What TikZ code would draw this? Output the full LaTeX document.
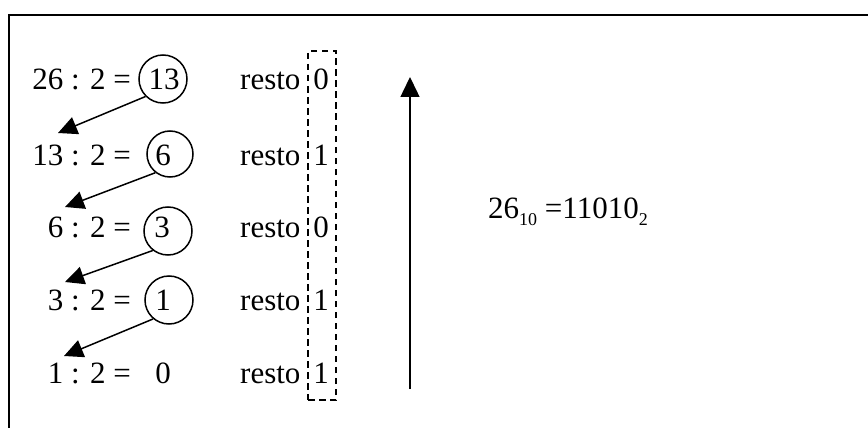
\documentclass[tikz,border=0pt]{standalone}
\usepackage{fontspec}
\setmainfont{Liberation Serif}
\usetikzlibrary{arrows.meta}
\newcommand{\subdigits}[1]{{\fontsize{18}{18}\selectfont\raisebox{-7pt}{#1}}}
\begin{document}
\begin{tikzpicture}[x=1pt,y=-1pt,
  txt/.style={inner sep=0pt,font=\fontsize{31}{37}\selectfont},
  ring/.style={draw,circle,line width=1.5pt,minimum size=48pt,inner sep=0pt},
  link/.style={line width=1.5pt,-{Triangle[length=19pt,width=18pt]}},
  ]
\useasboundingbox (0,0) rectangle (868,428);
% open frame
\draw[line width=1.8pt] (9,440) -- (9,15) -- (880,15);

% divisions
\node[txt,anchor=base east] (e1) at (131,90)  {26 : 2 =};
\node[txt,anchor=base east] (e2) at (131,165) {13 : 2 =};
\node[txt,anchor=base east] (e3) at (131,237) {6 : 2 =};
\node[txt,anchor=base east] (e4) at (131,310) {3 : 2 =};
\node[txt,anchor=base east] (e5) at (131,383) {1 : 2 =};

% quotients
\node[txt,anchor=base] (q1) at (164,90)  {13};
\node[txt,anchor=base] (q2) at (163,165) {6};
\node[txt,anchor=base] (q3) at (162,237) {3};
\node[txt,anchor=base] (q4) at (163,310) {1};
\node[txt,anchor=base] (q5) at (163,383) {0};

% circles round the quotients
\node[ring] (c1) at (163,79)  {};
\node[ring,minimum size=46pt] (c2) at (170,154) {};
\node[ring] (c3) at (168,231) {};
\node[ring] (c4) at (169,300) {};

% each quotient is carried to the next division
\coordinate (t1) at (58,133);
\coordinate (t2) at (65,207);
\coordinate (t3) at (65,282);
\coordinate (t4) at (64,356);
\draw[link] (c1.225) -- (t1);
\draw[link] (c2.232) -- (t2);
\draw[link] (c3.232) -- (t3);
\draw[link] (c4.230) -- (t4);

% remainders
\foreach \i/\y/\b in {1/90/0,2/165/1,3/237/0,4/310/1,5/383/1}{
  \node[txt,anchor=base west] (r\i) at (240,\y) {resto};
  \node[txt,anchor=base] (b\i) at (321,\y) {\b};
}
\node[draw,dashed,dash pattern=on 6.5pt off 4.5pt,line width=1.5pt,
      minimum width=28pt,minimum height=349pt,inner sep=0pt] (box) at (322,225.5) {};

% reading direction
\coordinate (up0) at (410,389);
\coordinate (up1) at (410,77);
\draw[line width=1.5pt,-{Triangle[length=20pt,width=19pt]}] (up0) -- (up1);

% result
\node[txt,anchor=base west] (res) at (488,218) {26\subdigits{10} =11010\subdigits{2}};
\end{tikzpicture}
\end{document}
